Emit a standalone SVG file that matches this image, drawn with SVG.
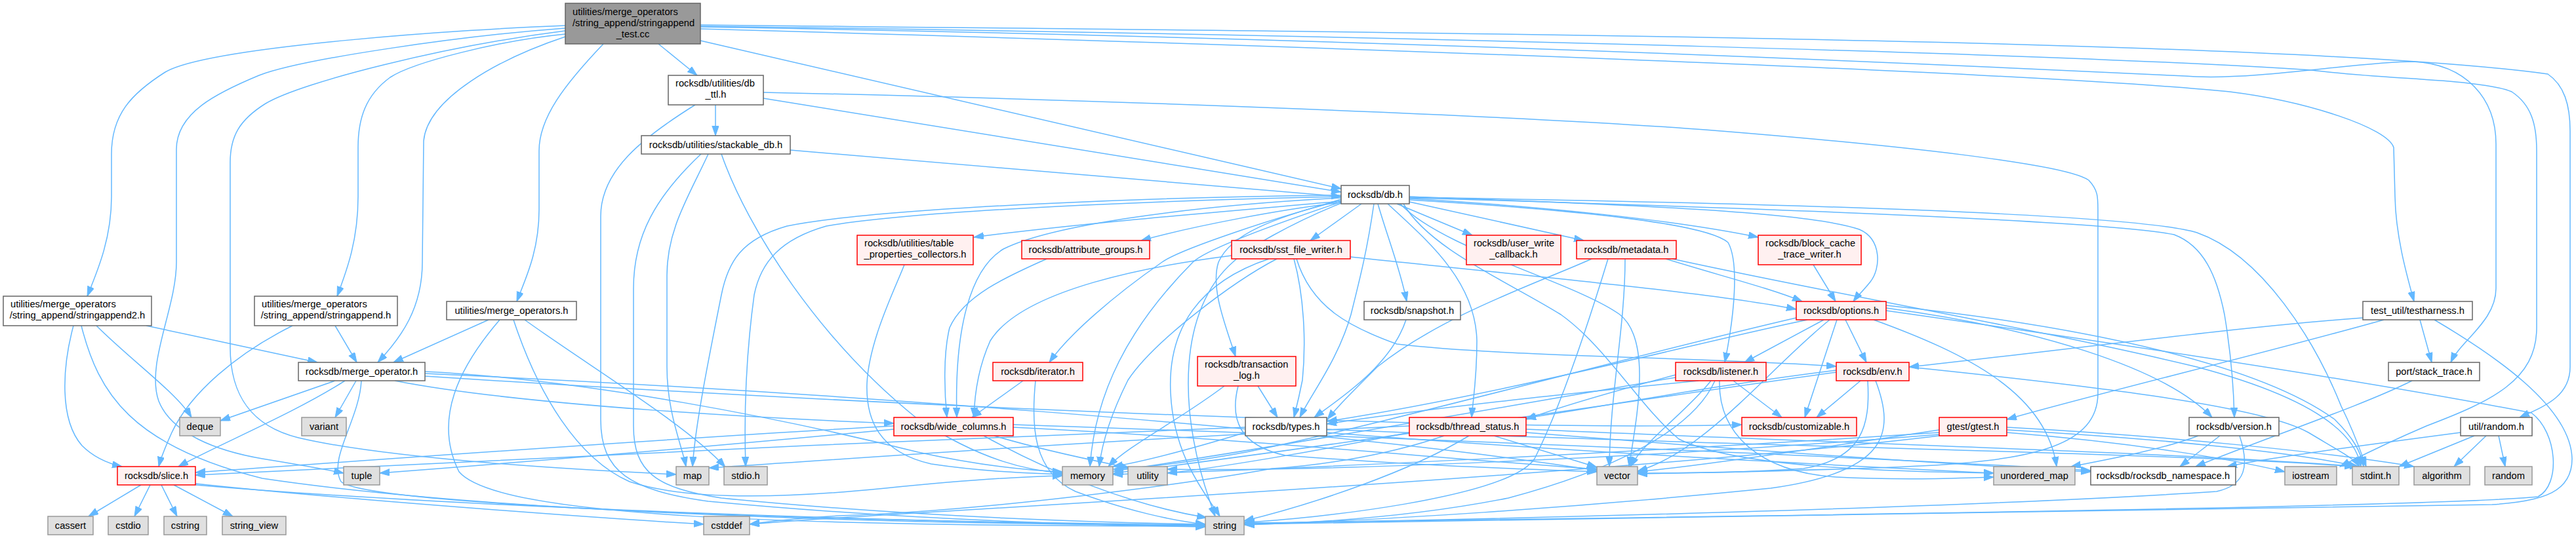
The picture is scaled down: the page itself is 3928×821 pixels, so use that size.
<svg xmlns="http://www.w3.org/2000/svg" width="3928" height="821" viewBox="0 0 3928 821">
<style>
text{font-family:"Liberation Sans",Arial,Helvetica,sans-serif;font-size:14.7px;fill:#000}
.c{text-anchor:middle}
.n rect{stroke-width:1.5}
.w rect{fill:#fff;stroke:#666}
.r rect{fill:#fff0f0;stroke:#ff0000}
.g rect{fill:#e0e0e0;stroke:#999}
.m rect{fill:#999;stroke:#666}
#edges path{fill:none;stroke:#63b8ff;stroke-width:1.5;marker-end:url(#a)}
</style>
<defs>
<marker id="a" markerWidth="16" markerHeight="12" refX="15" refY="5.2" orient="auto" markerUnits="userSpaceOnUse"><path d="M0,0 L15,5.2 L0,10.4 z" fill="#63b8ff" stroke="#63b8ff" stroke-width="1"/></marker>
</defs>
<rect width="3928" height="821" fill="#fff"/>
<g id="edges">
<path d="M862,39 C720,44 320,70 252,110 C200,143 170,175 170,235 L170,300 C170,365 148,415 133,452"/>
<path d="M862,43 C700,55 460,90 395,115 C330,142 269,172 269,228 L269,400 C269,470 222,555 242,612 C262,662 330,688 400,700 C455,709 495,716 524,722"/>
<path d="M862,47 C680,70 460,125 405,158 C365,183 351,208 351,248 L351,530 C351,602 382,650 455,668 C600,702 900,718 1031,724"/>
<path d="M862,52 C760,62 630,95 595,118 C558,145 546,180 546,225 L546,300 C546,365 530,410 514,452"/>
<path d="M862,56 C760,90 652,150 646,215 L644,400 C644,470 612,515 576,553"/>
<path d="M920,67 C860,130 822,180 822,230 L822,320 C822,385 800,428 788,460"/>
<path d="M1004,67 L1063,115"/>
<path d="M1068,62 L2045,288"/>
<path d="M1068,44 C2000,70 3100,110 3400,140 C3520,155 3640,195 3650,225 L3652,300 C3653,360 3670,420 3681,460"/>
<path d="M1068,41 C2200,60 3100,105 3350,117 C3450,121 3600,94 3680,94 C3760,98 3806,150 3806,220 L3806,440 C3806,490 3752,520 3737,553"/>
<path d="M1068,40 C2200,55 3200,85 3525,107 C3640,122 3780,120 3830,140 C3860,160 3868,190 3868,230 L3868,500 C3868,580 3800,612 3700,650 C3630,680 3592,700 3568,712"/>
<path d="M1068,38 C2200,50 3500,60 3885,113 C3910,130 3919,160 3919,200 L3919,560 C3919,605 3880,620 3842,637"/>
<path d="M1091,160 L1091,207"/>
<path d="M1164,150 L2045,293"/>
<path d="M1164,141 C1600,150 2300,175 2600,198 C2900,222 3150,250 3185,275 C3199,290 3199,300 3199,320 L3199,600 C3199,680 3100,700 2950,710 C2800,718 2600,721 2497,723"/>
<path d="M1060,160 C980,210 916,260 916,330 L916,640 C916,720 960,748 1080,765 C1400,795 1700,802 1838,804"/>
<path d="M1205,229 L2045,300"/>
<path d="M1080,235 C1050,300 1017,350 1017,420 L1017,560 C1017,630 1040,680 1046,712"/>
<path d="M1100,235 C1140,350 1250,520 1400,640 C1500,705 1570,718 1620,722"/>
<path d="M1069,235 C1000,300 966,360 966,440 L966,650 C966,720 1000,745 1100,760 C1400,790 1700,798 1838,800"/>
<path d="M2076,311 L1998,367"/>
<path d="M2130,311 L2245,359"/>
<path d="M2149,308 L2415,367"/>
<path d="M2149,303 C2350,315 2550,335 2681,362"/>
<path d="M2149,300 C2400,310 2750,320 2835,350 C2870,365 2868,410 2852,430 C2840,445 2832,452 2826,460"/>
<path d="M2149,305 C2400,320 2600,340 2635,370 C2652,400 2645,480 2630,553"/>
<path d="M2101,311 C2115,360 2135,410 2145,460"/>
<path d="M2116,311 C2180,370 2250,430 2252,520 C2252,580 2246,610 2244,637"/>
<path d="M2095,311 C2085,380 2075,420 2060,480 C2040,550 2000,600 1982,637"/>
<path d="M2045,306 C1950,330 1800,380 1772,400 C1700,450 1630,510 1600,553"/>
<path d="M2045,304 C1960,330 1880,350 1858,400 C1845,440 1870,500 1884,544"/>
<path d="M2045,308 C1950,340 1840,380 1819,400 C1720,500 1670,600 1662,712"/>
<path d="M2045,310 C1970,340 1900,380 1880,400 C1800,470 1790,620 1853,788"/>
<path d="M2045,307 C1900,320 1650,340 1485,362"/>
<path d="M2045,309 C1950,320 1820,345 1740,367"/>
<path d="M2045,298 C1800,300 1350,315 1200,345 C1130,365 1110,400 1100,450 C1080,550 1060,650 1056,712"/>
<path d="M2045,300 C1800,305 1400,320 1260,345 C1190,365 1160,400 1150,450 C1135,560 1135,650 1137,712"/>
<path d="M2140,311 C2180,380 2300,430 2380,480 C2450,530 2500,620 2560,670 C2650,715 2900,720 3040,722"/>
<path d="M2135,311 C2200,380 2400,430 2470,480 C2520,520 2495,640 2484,712"/>
<path d="M2149,302 C2600,315 3200,335 3315,358 C3360,375 3380,420 3392,480 C3402,540 3406,590 3407,637"/>
<path d="M2149,301 C2700,310 3250,325 3350,355 C3450,390 3530,520 3570,620 C3590,660 3600,690 3608,712"/>
<path d="M2045,302 C1800,315 1600,345 1530,380 C1480,410 1455,500 1459,637"/>
<path d="M1379,404 C1365,440 1325,520 1322,585 C1320,640 1340,690 1420,708 C1500,720 1570,722 1620,724"/>
<path d="M1596,395 C1540,420 1470,450 1448,500 C1438,540 1440,600 1444,637"/>
<path d="M1947,395 C1880,430 1760,520 1720,580 C1690,640 1680,680 1676,712"/>
<path d="M1935,395 C1830,430 1780,500 1785,600 C1790,700 1840,755 1860,788"/>
<path d="M1977,395 C2000,470 2060,500 2130,525 C2300,545 2600,545 2800,559"/>
<path d="M2059,392 C2300,418 2600,445 2739,472"/>
<path d="M1973,395 C1988,450 1992,520 1986,580 C1980,610 1976,625 1973,637"/>
<path d="M1878,390 C1760,405 1560,440 1510,520 C1492,560 1486,600 1485,637"/>
<path d="M2427,395 C2350,430 2200,480 2100,560 C2060,600 2040,620 2024,640"/>
<path d="M2452,395 C2420,500 2380,620 2340,700 C2300,760 2000,792 1898,797"/>
<path d="M2478,395 C2478,500 2455,600 2454,712"/>
<path d="M2540,395 C2620,420 2700,440 2748,460"/>
<path d="M2550,395 C2800,450 3100,500 3350,560 C3500,600 3590,650 3600,712"/>
<path d="M2765,404 L2799,460"/>
<path d="M112,497 C95,560 90,640 125,680 C145,700 168,708 186,712"/>
<path d="M124,497 C150,600 200,680 400,730 C800,790 1500,800 1838,802"/>
<path d="M147,497 C200,550 270,600 292,637"/>
<path d="M223,497 L484,553"/>
<path d="M446,497 C360,540 290,600 262,660 C252,682 245,700 242,712"/>
<path d="M511,497 L544,553"/>
<path d="M745,488 L600,553"/>
<path d="M800,488 C900,560 1050,650 1106,713"/>
<path d="M783,488 C820,600 880,700 960,735 C1050,765 1200,760 1350,745 C1480,732 1560,727 1620,726"/>
<path d="M762,488 C700,560 660,640 700,720 C760,790 1200,802 1838,803"/>
<path d="M2781,488 L2660,553"/>
<path d="M2801,488 L2752,637"/>
<path d="M2814,488 L2846,553"/>
<path d="M2857,488 C3000,540 3120,600 3136,712"/>
<path d="M2756,488 C2600,520 2300,600 2024,643"/>
<path d="M2739,485 C2500,540 2100,650 1900,690 C1800,708 1740,714 1698,716"/>
<path d="M2876,470 C3100,500 3300,560 3373,637"/>
<path d="M2876,466 C3200,500 3450,560 3560,640 C3590,670 3600,690 3604,712"/>
<path d="M2876,474 C3200,520 3600,580 3860,630 C3900,660 3905,740 3870,758 C3700,775 2500,790 1898,798"/>
<path d="M2790,488 C2700,560 2600,690 2497,719"/>
<path d="M2144,488 C2120,560 2040,610 2004,637"/>
<path d="M3603,485 C3400,500 3100,540 2911,560"/>
<path d="M3635,488 C3450,540 3200,600 3060,640"/>
<path d="M3690,488 L3708,553"/>
<path d="M3712,488 C3800,540 3920,620 3922,700 C3922,750 3880,765 3800,770 C3000,785 2300,795 1898,800"/>
<path d="M511,581 L336,642"/>
<path d="M526,581 C450,630 330,680 272,712"/>
<path d="M543,581 L511,637"/>
<path d="M551,581 C548,640 500,700 520,735 C560,770 1200,795 1838,801"/>
<path d="M648,567 C900,580 1200,640 1400,690 C1500,712 1570,718 1620,720"/>
<path d="M648,570 C1200,595 2000,650 2435,718"/>
<path d="M648,574 C1200,610 2200,660 2656,648"/>
<path d="M602,581 C800,620 1200,640 1363,646"/>
<path d="M1560,581 L1482,637"/>
<path d="M1579,581 C1572,650 1575,720 1640,750 C1720,780 1790,795 1838,800"/>
<path d="M1867,589 C1800,640 1720,680 1690,712"/>
<path d="M1888,589 C1875,640 1890,680 1960,695 C2150,710 2300,715 2435,720"/>
<path d="M1918,589 L1948,637"/>
<path d="M2643,581 L2717,637"/>
<path d="M2590,581 C2400,600 2200,620 2023,647"/>
<path d="M2555,572 C2450,600 2380,620 2327,640"/>
<path d="M2555,576 C2300,620 1900,690 1698,719"/>
<path d="M2615,581 C2580,660 2450,720 2300,760 C2150,790 2000,798 1898,801"/>
<path d="M2622,581 C2620,660 2680,720 2800,728 C2900,733 2980,730 3040,728"/>
<path d="M2609,581 C2570,630 2510,670 2486,712"/>
<path d="M2837,581 L2770,637"/>
<path d="M2800,565 C2600,590 2450,620 2327,638"/>
<path d="M2800,568 C2500,610 2000,685 1698,722"/>
<path d="M2848,581 C2852,650 2840,700 2750,715 C2650,722 2560,722 2497,722"/>
<path d="M2860,581 C2890,660 2880,720 2700,745 C2400,775 2100,795 1898,800"/>
<path d="M2911,560 C3200,590 3450,620 3520,660 C3570,690 3590,700 3598,712"/>
<path d="M3678,581 C3600,620 3450,670 3348,712"/>
<path d="M1363,650 C1000,670 600,700 298,721"/>
<path d="M1363,655 C1100,680 800,705 579,722"/>
<path d="M1516,665 C1600,690 1680,705 1722,714"/>
<path d="M1545,652 C1900,670 2200,700 2435,716"/>
<path d="M1545,648 C2200,670 2900,700 3188,718"/>
<path d="M1500,665 C1600,720 1720,770 1840,790"/>
<path d="M1899,652 C1400,670 700,705 298,725"/>
<path d="M2023,655 C2600,680 3300,690 3590,712"/>
<path d="M1899,660 C1800,690 1740,705 1697,712"/>
<path d="M2023,660 C2400,690 2800,710 3040,722"/>
<path d="M2278,665 L2435,713"/>
<path d="M2327,655 C2900,680 3300,690 3598,712"/>
<path d="M2202,665 C2100,700 1990,712 1940,715 C1800,740 1500,780 1280,787 C1200,792 1170,796 1143,800"/>
<path d="M2149,650 C1700,670 1300,700 1081,714"/>
<path d="M2240,665 C2150,720 2000,770 1897,795"/>
<path d="M2149,660 C2000,690 1850,715 1780,722"/>
<path d="M2327,660 C2700,690 3000,710 3188,720"/>
<path d="M3060,660 C3250,675 3400,700 3484,720"/>
<path d="M3060,652 C3300,665 3550,690 3681,712"/>
<path d="M3060,656 C3300,670 3500,690 3595,712"/>
<path d="M2957,656 C2800,680 2600,710 2497,720"/>
<path d="M2957,660 C2500,690 2000,715 1697,724"/>
<path d="M2957,663 C2500,700 2000,720 1780,716"/>
<path d="M2957,665 C2500,720 1600,770 1280,790 C1200,795 1170,798 1143,800"/>
<path d="M3385,665 L3324,712"/>
<path d="M3352,665 C3300,685 3220,700 3158,712"/>
<path d="M3415,665 C3430,710 3425,740 3380,750 C3000,775 2300,792 1897,799"/>
<path d="M3752,660 C3600,680 3450,700 3396,712"/>
<path d="M3773,665 L3658,712"/>
<path d="M3791,665 L3742,712"/>
<path d="M3810,665 L3820,712"/>
<path d="M215,740 L135,788"/>
<path d="M229,740 L205,788"/>
<path d="M246,740 L270,788"/>
<path d="M265,740 L355,788"/>
<path d="M298,738 C500,760 900,790 1073,800"/>
<path d="M298,740 C700,775 1400,797 1838,803"/>
</g>
<g id="node-main" class="n m"><rect x="862" y="5" width="206" height="62"/><text x="873" y="23">utilities/merge_operators</text><text x="873" y="40">/string_append/stringappend</text><text class="c" x="965" y="57">_test.cc</text></g>
<g id="node-db_ttl" class="n w"><rect x="1019" y="115" width="145" height="45"/><text x="1030" y="132">rocksdb/utilities/db</text><text class="c" x="1091.5" y="149">_ttl.h</text></g>
<g id="node-stackable_db" class="n w"><rect x="978" y="207" width="227" height="28"/><text class="c" x="1091.5" y="226">rocksdb/utilities/stackable_db.h</text></g>
<g id="node-db" class="n w"><rect x="2045" y="283" width="104" height="28"/><text class="c" x="2097" y="302">rocksdb/db.h</text></g>
<g id="node-table_properties_collectors" class="n r"><rect x="1307" y="359" width="177" height="45"/><text x="1318" y="376">rocksdb/utilities/table</text><text class="c" x="1395.5" y="393">_properties_collectors.h</text></g>
<g id="node-attribute_groups" class="n r"><rect x="1558" y="367" width="195" height="28"/><text class="c" x="1655.5" y="386">rocksdb/attribute_groups.h</text></g>
<g id="node-sst_file_writer" class="n r"><rect x="1878" y="367" width="181" height="28"/><text class="c" x="1968.5" y="386">rocksdb/sst_file_writer.h</text></g>
<g id="node-user_write_callback" class="n r"><rect x="2236" y="359" width="144" height="45"/><text x="2247" y="376">rocksdb/user_write</text><text class="c" x="2308" y="393">_callback.h</text></g>
<g id="node-metadata" class="n r"><rect x="2404" y="367" width="152" height="28"/><text class="c" x="2480" y="386">rocksdb/metadata.h</text></g>
<g id="node-block_cache_trace_writer" class="n r"><rect x="2681" y="359" width="157" height="45"/><text x="2692" y="376">rocksdb/block_cache</text><text class="c" x="2759.5" y="393">_trace_writer.h</text></g>
<g id="node-stringappend2" class="n w"><rect x="5" y="452" width="226" height="45"/><text x="16" y="469">utilities/merge_operators</text><text class="c" x="118" y="486">/string_append/stringappend2.h</text></g>
<g id="node-stringappend" class="n w"><rect x="388" y="452" width="218" height="45"/><text x="399" y="469">utilities/merge_operators</text><text class="c" x="497" y="486">/string_append/stringappend.h</text></g>
<g id="node-merge_operators" class="n w"><rect x="681" y="460" width="198" height="28"/><text class="c" x="780" y="479">utilities/merge_operators.h</text></g>
<g id="node-snapshot" class="n w"><rect x="2080" y="460" width="147" height="28"/><text class="c" x="2153.5" y="479">rocksdb/snapshot.h</text></g>
<g id="node-options" class="n r"><rect x="2739" y="460" width="137" height="28"/><text class="c" x="2807.5" y="479">rocksdb/options.h</text></g>
<g id="node-testharness" class="n w"><rect x="3603" y="460" width="167" height="28"/><text class="c" x="3686.5" y="479">test_util/testharness.h</text></g>
<g id="node-merge_operator" class="n w"><rect x="455" y="553" width="193" height="28"/><text class="c" x="551.5" y="572">rocksdb/merge_operator.h</text></g>
<g id="node-iterator" class="n r"><rect x="1514" y="553" width="137" height="28"/><text class="c" x="1582.5" y="572">rocksdb/iterator.h</text></g>
<g id="node-transaction_log" class="n r"><rect x="1826" y="544" width="150" height="45"/><text x="1837" y="561">rocksdb/transaction</text><text class="c" x="1901" y="578">_log.h</text></g>
<g id="node-listener" class="n r"><rect x="2555" y="553" width="138" height="28"/><text class="c" x="2624" y="572">rocksdb/listener.h</text></g>
<g id="node-env" class="n r"><rect x="2800" y="553" width="111" height="28"/><text class="c" x="2855.5" y="572">rocksdb/env.h</text></g>
<g id="node-stack_trace" class="n w"><rect x="3642" y="553" width="139" height="28"/><text class="c" x="3711.5" y="572">port/stack_trace.h</text></g>
<g id="node-deque" class="n g"><rect x="274" y="637" width="62" height="28"/><text class="c" x="305" y="656">deque</text></g>
<g id="node-variant" class="n g"><rect x="460" y="637" width="68" height="28"/><text class="c" x="494" y="656">variant</text></g>
<g id="node-wide_columns" class="n r"><rect x="1363" y="637" width="182" height="28"/><text class="c" x="1454" y="656">rocksdb/wide_columns.h</text></g>
<g id="node-types" class="n w"><rect x="1899" y="637" width="124" height="28"/><text class="c" x="1961" y="656">rocksdb/types.h</text></g>
<g id="node-thread_status" class="n r"><rect x="2149" y="637" width="178" height="28"/><text class="c" x="2238" y="656">rocksdb/thread_status.h</text></g>
<g id="node-customizable" class="n r"><rect x="2656" y="637" width="175" height="28"/><text class="c" x="2743.5" y="656">rocksdb/customizable.h</text></g>
<g id="node-gtest" class="n r"><rect x="2957" y="637" width="103" height="28"/><text class="c" x="3008.5" y="656">gtest/gtest.h</text></g>
<g id="node-version" class="n w"><rect x="3338" y="637" width="137" height="28"/><text class="c" x="3406.5" y="656">rocksdb/version.h</text></g>
<g id="node-util_random" class="n w"><rect x="3752" y="637" width="109" height="28"/><text class="c" x="3806.5" y="656">util/random.h</text></g>
<g id="node-slice" class="n r"><rect x="179" y="712" width="119" height="28"/><text class="c" x="238.5" y="731">rocksdb/slice.h</text></g>
<g id="node-tuple" class="n g"><rect x="524" y="712" width="55" height="28"/><text class="c" x="551.5" y="731">tuple</text></g>
<g id="node-map" class="n g"><rect x="1031" y="712" width="50" height="28"/><text class="c" x="1056" y="731">map</text></g>
<g id="node-stdio" class="n g"><rect x="1104" y="712" width="66" height="28"/><text class="c" x="1137" y="731">stdio.h</text></g>
<g id="node-memory" class="n g"><rect x="1620" y="712" width="77" height="28"/><text class="c" x="1658.5" y="731">memory</text></g>
<g id="node-utility" class="n g"><rect x="1720" y="712" width="60" height="28"/><text class="c" x="1750" y="731">utility</text></g>
<g id="node-vector" class="n g"><rect x="2435" y="712" width="62" height="28"/><text class="c" x="2466" y="731">vector</text></g>
<g id="node-unordered_map" class="n g"><rect x="3040" y="712" width="124" height="28"/><text class="c" x="3102" y="731">unordered_map</text></g>
<g id="node-rocksdb_namespace" class="n w"><rect x="3188" y="712" width="221" height="28"/><text class="c" x="3298.5" y="731">rocksdb/rocksdb_namespace.h</text></g>
<g id="node-iostream" class="n g"><rect x="3484" y="712" width="79" height="28"/><text class="c" x="3523.5" y="731">iostream</text></g>
<g id="node-stdint" class="n g"><rect x="3587" y="712" width="71" height="28"/><text class="c" x="3622.5" y="731">stdint.h</text></g>
<g id="node-algorithm" class="n g"><rect x="3681" y="712" width="85" height="28"/><text class="c" x="3723.5" y="731">algorithm</text></g>
<g id="node-random" class="n g"><rect x="3789" y="712" width="72" height="28"/><text class="c" x="3825" y="731">random</text></g>
<g id="node-cassert" class="n g"><rect x="73" y="788" width="69" height="28"/><text class="c" x="107.5" y="807">cassert</text></g>
<g id="node-cstdio" class="n g"><rect x="165" y="788" width="61" height="28"/><text class="c" x="195.5" y="807">cstdio</text></g>
<g id="node-cstring" class="n g"><rect x="250" y="788" width="65" height="28"/><text class="c" x="282.5" y="807">cstring</text></g>
<g id="node-string_view" class="n g"><rect x="339" y="788" width="97" height="28"/><text class="c" x="387.5" y="807">string_view</text></g>
<g id="node-cstddef" class="n g"><rect x="1073" y="788" width="70" height="28"/><text class="c" x="1108" y="807">cstddef</text></g>
<g id="node-string" class="n g"><rect x="1838" y="788" width="59" height="28"/><text class="c" x="1867.5" y="807">string</text></g>
</svg>
